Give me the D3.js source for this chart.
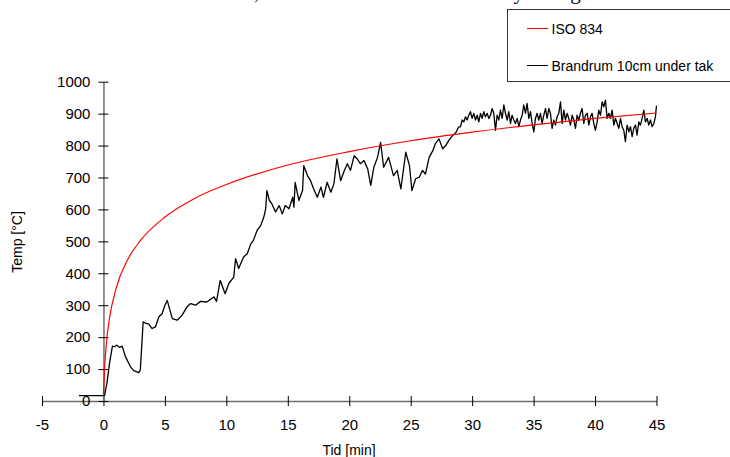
<!DOCTYPE html>
<meta charset="utf-8">
<style>
  body { margin: 0; background: #fff; }
  text { font-family: "Liberation Sans", Arial, sans-serif; fill: #000; }
</style>
<svg id="chart"></svg>
<script src="https://d3js.org/d3.v7.min.js"></script>
<script>

// tick values
var xTicks = [-5, 0, 5, 10, 15, 20, 25, 30, 35, 40, 45];
var yTicks = [0, 100, 200, 300, 400, 500, 600, 700, 800, 900, 1000];

// ISO 834 standard curve
var isoTime = [0, 0.1, 0.25, 0.5, 1, 2, 3, 5, 7.5, 10, 15, 20, 25, 30, 35, 40, 45];
var isoTemp = [20, 108, 185, 261, 349, 445, 502, 576, 636, 678, 739, 781, 815, 842, 865, 885, 902];

// measured: Brandrum 10cm under tak
var brandTime = [-2, -1, 0, 0.1, 0.3, 0.5, 0.73, 0.9, 1.1, 1.3, 1.52, 1.79, 2.2, 2.47, 2.88, 3.0,
  3.23, 3.42, 3.69, 3.96, 4.23, 4.5, 4.78, 5.0, 5.19, 5.6, 6.0, 6.4, 6.8, 7.1, 7.5, 7.9, 8.4, 8.7,
  9.0, 9.2, 9.5, 9.9, 10.2, 10.6, 10.75, 11.0, 11.4, 11.7, 12.0, 12.2, 12.5, 12.8, 13.05, 13.2,
  13.3, 13.5, 13.7, 14.0, 14.3, 14.55, 14.8, 15.1, 15.4, 15.5, 15.6, 15.9, 16.2, 16.3, 16.6, 16.85,
  17.1, 17.4, 17.7, 17.9, 18.2, 18.5, 18.75, 19.0, 19.3, 19.6, 19.85, 20.1, 20.4, 20.65, 20.9, 21.2,
  21.5, 21.75, 22.0, 22.3, 22.55, 22.8, 23.2, 23.6, 23.9, 24.2, 24.6, 24.9, 25.1, 25.4, 25.7, 25.95,
  26.2, 26.5, 26.8, 27.0, 27.3, 27.6, 27.85, 28.1, 28.4, 28.7, 28.9,
  29.05, 29.19, 29.32, 29.46, 29.59, 29.73, 29.86, 30.00, 30.13, 30.27, 30.41, 30.54, 30.68, 30.81,
  30.95, 31.08, 31.22, 31.36, 31.49, 31.63, 31.76, 31.90, 32.03, 32.17, 32.30, 32.44, 32.58, 32.71,
  32.85, 32.98, 33.12, 33.25, 33.39, 33.52, 33.66, 33.80, 33.93, 34.07, 34.20, 34.34, 34.47, 34.61,
  34.75, 34.88, 35.02, 35.15, 35.29, 35.42, 35.56, 35.69, 35.83, 35.97, 36.10, 36.24, 36.37, 36.51,
  36.64, 36.78, 36.91, 37.05, 37.19, 37.32, 37.46, 37.59, 37.73, 37.86, 38.00, 38.14, 38.27, 38.41,
  38.54, 38.68, 38.81, 38.95, 39.08, 39.22, 39.36, 39.49, 39.63, 39.76, 39.90, 40.03, 40.17, 40.30,
  40.44, 40.58, 40.71, 40.85, 40.98, 41.12, 41.25, 41.39, 41.53, 41.66, 41.80, 41.93, 42.07, 42.20,
  42.34, 42.47, 42.61, 42.75, 42.88, 43.02, 43.15, 43.29, 43.42, 43.56, 43.69, 43.83, 43.97, 44.10,
  44.24, 44.37, 44.51, 44.64, 44.78, 44.91, 45.00];
var brandTemp = [17, 17, 17, 18, 60, 120, 172, 170, 175, 168, 172, 139, 107, 95, 89, 97,
  248, 244, 241, 227, 232, 263, 274, 300, 315, 258, 253, 269, 295, 305, 300, 312, 310, 318,
  326, 312, 378, 336, 368, 388, 446, 415, 451, 461, 493, 503, 534, 550, 576, 602,
  659, 628, 618, 592, 612, 586, 612, 602, 638, 607, 685, 628, 659, 737, 706, 690,
  665, 638, 670, 638, 685, 654, 680, 758, 690, 722, 743, 722, 768, 758, 743, 753,
  727, 675, 732, 763, 810, 732, 763, 706, 722, 664, 779, 737, 659, 696, 701, 722,
  711, 763, 784, 805, 821, 790, 800, 816, 831, 842, 858,
  859, 880, 874, 890, 880, 895, 906, 885, 901, 880, 895, 874, 901, 885,
  906, 890, 901, 885, 895, 916, 901, 848, 895, 880, 911, 885, 927, 901,
  880, 906, 869, 895, 880, 869, 885, 859, 880, 895, 927, 901, 932, 885,
  906, 869, 843, 885, 901, 880, 901, 869, 895, 916, 885, 916, 901, 854,
  880, 864, 890, 901, 937, 869, 911, 880, 901, 885, 864, 895, 880, 854,
  895, 880, 901, 916, 869, 895, 901, 864, 890, 901, 869, 848, 874, 911,
  895, 937, 921, 942, 885, 901, 885, 911, 864, 885, 869, 854, 885, 859,
  848, 812, 864, 843, 859, 828, 854, 864, 833, 874, 864, 885, 911, 874,
  885, 864, 880, 859, 869, 890, 925];

var seriesNames = ["ISO 834", "Brandrum 10cm under tak"];
var seriesColors = ["#ff0000", "#000000"];
var chartTitle = "Försök 2, brandrummet i en villa med ny takläge";

var width = 730, height = 457;
var svg = d3.select("#chart").attr("width", width).attr("height", height);

var x = d3.scaleLinear().domain([-5, 45]).range([42, 656.5]);
var y = d3.scaleLinear().domain([0, 1000]).range([401, 81.7]);

var plain = function(d) { return String(d); };

// title, cut by the top edge
svg.append("text")
  .attr("x", 180).attr("y", -1)
  .style("font-family", "'Liberation Serif', 'Times New Roman', serif")
  .style("font-size", "21px")
  .text(chartTitle);

// x axis, crossing ticks
var gx = svg.append("g")
  .attr("transform", "translate(0," + y(0) + ")")
  .call(d3.axisBottom(x).tickValues(xTicks).tickFormat(plain)
    .tickSize(5).tickSizeOuter(0).tickPadding(13));
gx.select(".domain").attr("stroke", "#6e6e6e").attr("stroke-width", 1.5);
gx.selectAll(".tick line").attr("y1", -5).attr("stroke", "#000");
gx.selectAll(".tick text").style("font-size", "15px").style("font-family", "'Liberation Sans', Arial, sans-serif");

// y axis, crossing ticks
var gy = svg.append("g")
  .attr("transform", "translate(" + x(0) + ",0)")
  .call(d3.axisLeft(y).tickValues(yTicks).tickFormat(plain)
    .tickSize(5).tickSizeOuter(0).tickPadding(8));
gy.select(".domain").attr("stroke", "#6e6e6e").attr("stroke-width", 1.5);
gy.selectAll(".tick line").attr("x1", 5).attr("stroke", "#000");
gy.selectAll(".tick text").style("font-size", "15px").style("font-family", "'Liberation Sans', Arial, sans-serif");

// axis titles
svg.append("text")
  .attr("x", 349).attr("y", 455)
  .attr("text-anchor", "middle")
  .style("font-size", "14px")
  .text("Tid [min]");
svg.append("text")
  .attr("transform", "translate(22,242) rotate(-90)")
  .attr("text-anchor", "middle")
  .style("font-size", "14px")
  .text("Temp [°C]");

// lines
var line = d3.line()
  .x(function(d) { return x(d[0]); })
  .y(function(d) { return y(d[1]); });

var isoData = isoTime.map(function(t, i) { return [t, isoTemp[i]]; });
var brandData = brandTime.map(function(t, i) { return [t, brandTemp[i]]; });

svg.append("path")
  .datum(brandData)
  .attr("d", line)
  .attr("fill", "none")
  .attr("stroke", seriesColors[1])
  .attr("stroke-width", 1.3)
  .attr("stroke-linejoin", "round");

svg.append("path")
  .datum(isoData)
  .attr("d", line.curve(d3.curveMonotoneX))
  .attr("fill", "none")
  .attr("stroke", seriesColors[0])
  .attr("stroke-width", 1.2);

// legend
var lg = svg.append("g");
lg.append("rect")
  .attr("x", 507.5).attr("y", 9.5)
  .attr("width", 240).attr("height", 72)
  .attr("fill", "#fff").attr("stroke", "#333").attr("stroke-width", 1);

var items = lg.selectAll("g.item").data(seriesNames)
  .enter().append("g")
  .attr("transform", function(d, i) { return "translate(527," + (28.5 + i * 37) + ")"; });
items.append("line")
  .attr("x1", 0).attr("x2", 21)
  .attr("stroke", function(d, i) { return seriesColors[i]; })
  .attr("stroke-width", 1);
items.append("text")
  .attr("x", 24.5).attr("dy", "0.36em")
  .style("font-size", "14px")
  .text(function(d) { return d; });

</script>
